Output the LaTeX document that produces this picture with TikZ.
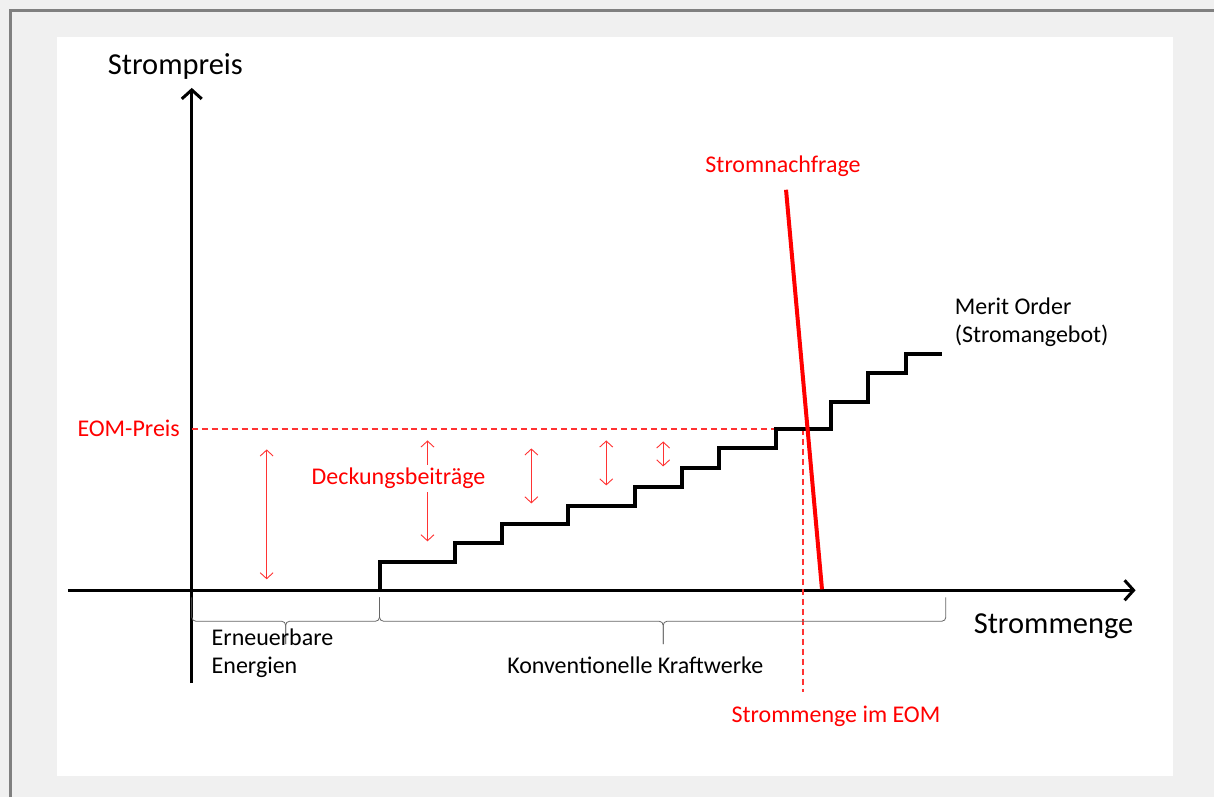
\documentclass[tikz,border=0pt]{standalone}
\usepackage{fontspec}
\setmainfont{Carlito}
\usetikzlibrary{arrows.meta,positioning,calc}

\begin{document}
\begin{tikzpicture}[x=1pt,y=-1pt,
font=\fontsize{24}{28}\selectfont,
inner sep=0pt, outer sep=0pt]

\tikzstyle{axis}=[line width=3pt,-{Straight Barb[length=9pt,width=20pt]}]
\tikzstyle{supply}=[line width=4pt,miter limit=4]
\tikzstyle{demand}=[line width=4pt,red]
\tikzstyle{margin}=[line width=0.9pt,red!80,{Straight Barb[length=6pt,width=13pt]}-{Straight Barb[length=6pt,width=13pt]}]
\tikzstyle{guide}=[line width=1.2pt,draw=red!80,dash pattern=on 6pt off 4pt]
\tikzstyle{brace}=[line width=0.8pt,black!60,rounded corners=4pt]
\tikzstyle{plain}=[text=black]
\tikzstyle{redlabel}=[text=red]
\tikzstyle{biglabel}=[font=\fontsize{30.5}{35}\selectfont]

%frame
\fill[black!6] (0,0) rectangle (1215,798);
\fill[white] (57,37) rectangle (1174,777);
\draw[black!50,line width=3pt] (11,798) -- (11,11) -- (1215,11);
\useasboundingbox (0,0) rectangle (1215,798);

%axes
\coordinate (origin) at (192,591);
\coordinate (ytop) at (192,88);
\coordinate (ybot) at (192,684);
\coordinate (xleft) at (68,591);
\coordinate (xright) at (1137,591);
\draw[axis] (ybot) -- (ytop);
\draw[axis] (xleft) -- (xright);

\node[plain,biglabel,anchor=base west] (price) at (108,75) {Strompreis};
\node[plain,biglabel,anchor=base west] (quantity) at (975,634) {Strommenge};

%EOM price and quantity
\coordinate (eom) at (804,429.5);
\draw[guide] (origin |- eom) -- (eom);
\draw[guide] (eom) -- (804,693);
\node[redlabel,anchor=base east] (eomprice) at (180,437) {EOM-Preis};
\node[redlabel,anchor=base] (eomquant) at (837,723) {Strommenge im EOM};

%merit order
\draw[supply] (380,591) \foreach \x/\y in {456/563,503/544,569/525,636/507,683/488,720/469,777/449,832/430,869/402,907/373,943/354} { |- (\x,\y) };
\node[plain,anchor=base west,align=left] (merit) at (956,343) {Merit Order\\(Stromangebot)};

%demand
\node[redlabel,anchor=base] (demandlabel) at (784,173) {Stromnachfrage};
\coordinate (dtop) at (787,190);
\coordinate (dbot) at (823,590);
\draw[demand] (dtop) -- (dbot);

%contribution margins
\foreach \x/\a/\b [count=\i] in {267/450/580,428/441/542,532/449/504,607/441/486,664/442/467} {
  \coordinate (db\i a) at (\x,\a);
  \coordinate (db\i b) at (\x,\b);
  \draw[margin] (db\i a) -- (db\i b);
}
\node[redlabel,fill=white,inner sep=3pt,anchor=base] (margins) at (399,485) {Deckungsbeiträge};

%braces
\draw[brace] (192,598) |- (286,622) -- (286,645);
\draw[brace] (380,598) |- (286,622) -- (286,645);
\draw[brace] (380,598) |- (664,622) -- (664,645);
\draw[brace] (947,598) |- (664,622) -- (664,645);
\node[plain,anchor=base west,align=left] (renew) at (212,674) {Erneuerbare\\Energien};
\node[plain,anchor=base] (conv) at (636,674) {Konventionelle Kraftwerke};

\end{tikzpicture}
\end{document}
